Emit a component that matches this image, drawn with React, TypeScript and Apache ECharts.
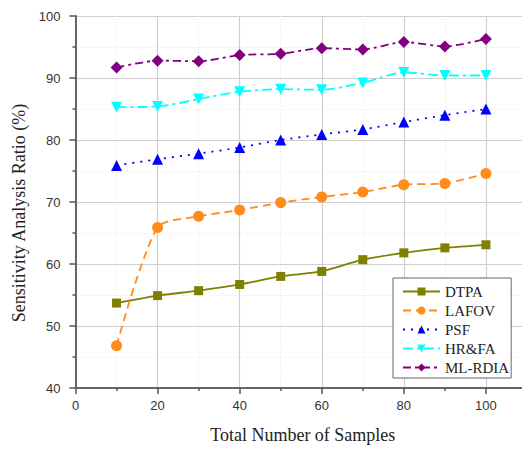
import React, { useEffect, useRef } from "react";
import * as echarts from "echarts";

const xValues = [10, 20, 30, 40, 50, 60, 70, 80, 90, 100];
const dtpa = [53.7, 54.9, 55.7, 56.7, 58.0, 58.8, 60.7, 61.8, 62.6, 63.1];
const lafov = [46.8, 65.9, 67.7, 68.7, 69.9, 70.8, 71.6, 72.8, 73.0, 74.6];
const psf = [75.9, 76.9, 77.8, 78.8, 80.0, 80.9, 81.7, 82.9, 84.0, 85.0];
const hrfa = [85.3, 85.4, 86.6, 87.8, 88.2, 88.1, 89.2, 90.9, 90.4, 90.4];
const mlrdia = [91.7, 92.8, 92.7, 93.7, 93.9, 94.8, 94.6, 95.8, 95.1, 96.3];

const pairs = (ys: number[]) => xValues.map((x, i) => [x, ys[i]]);

export default function App() {
  const ref = useRef<HTMLDivElement>(null);
  useEffect(() => {
    if (!ref.current) return;
    const chart = echarts.init(ref.current, undefined, { renderer: "svg" });
    const serif = "Liberation Serif";
    const sans = "Liberation Sans";
    const mk = (
      name: string,
      data: number[],
      color: string,
      symbol: string,
      size: number,
      type: any,
      extra: any = {}
    ) => ({
      name,
      type: "line",
      data: pairs(data),
      symbol,
      symbolSize: size,
      smooth: 0.25,
      itemStyle: { color },
      lineStyle: { color, width: 1.8, type },
      ...extra,
    });
    chart.setOption({
      animation: false,
      backgroundColor: "#fff",
      grid: { left: 75.5, right: 0, top: 16, bottom: 62, containLabel: false },
      xAxis: {
        type: "value",
        min: 0,
        max: 120,
        interval: 20,
        name: "Total Number of Samples",
        nameLocation: "middle",
        nameGap: 38,
        nameTextStyle: { fontFamily: serif, fontSize: 18, color: "#222", padding: [0, 38, 0, 0] },
        axisLine: { show: true, lineStyle: { color: "#666", width: 2 } },
        axisTick: { show: true, inside: false, length: 6, lineStyle: { color: "#555", width: 1.5 } },
        minorTick: { show: true, splitNumber: 2, length: 3, lineStyle: { color: "#555", width: 1.5 } },
        axisLabel: { fontFamily: sans, fontSize: 13, color: "#333", margin: 11, showMaxLabel: false },
        splitLine: { show: true, lineStyle: { color: "#cfcfcf", width: 1.2 } },
        minorSplitLine: { show: true, lineStyle: { color: "#e6e6e6", width: 1, type: [1, 2] } },
      },
      yAxis: {
        type: "value",
        min: 40,
        max: 100,
        interval: 10,
        name: "Sensitivity Analysis Ratio (%)",
        nameLocation: "middle",
        nameGap: 47,
        nameTextStyle: { fontFamily: serif, fontSize: 18, color: "#222", padding: [0, 22, 0, 0] },
        axisLine: { show: true, lineStyle: { color: "#666", width: 2 } },
        axisTick: { show: true, inside: false, length: 6, lineStyle: { color: "#555", width: 1.5 } },
        minorTick: { show: true, splitNumber: 2, length: 3, lineStyle: { color: "#555", width: 1.5 } },
        axisLabel: { fontFamily: sans, fontSize: 13, color: "#333", margin: 15 },
        splitLine: { show: true, lineStyle: { color: "#cfcfcf", width: 1.2 } },
        minorSplitLine: { show: true, lineStyle: { color: "#e6e6e6", width: 1, type: [1, 2] } },
      },
      legend: {
        orient: "vertical",
        left: 393,
        top: 278,
        itemWidth: 37,
        itemHeight: 10,
        itemGap: 4,
        padding: [6, 2, 3, 9],
        borderColor: "#666",
        borderWidth: 1,
        backgroundColor: "#fff",
        textStyle: { fontFamily: serif, fontSize: 15, color: "#222" },
        data: ["DTPA", "LAFOV", "PSF", "HR&FA", "ML-RDIA"],
      },
      series: [
        mk("DTPA", dtpa, "#808000", "rect", 9, "solid"),
        mk("LAFOV", lafov, "#ff8c1a", "circle", 11, [8, 5]),
        mk("PSF", psf, "#0000ff", "triangle", 11, [2, 6]),
        mk("HR&FA", hrfa, "#00ffff", "triangle", 11, [10, 4, 3, 4], { symbolRotate: 180 }),
        mk("ML-RDIA", mlrdia, "#800080", "diamond", 12, [8, 4, 3, 4]),
      ],
    });
    return () => chart.dispose();
  }, []);
  return (
    <div style={{ position: "absolute", left: 0, top: 0, width: 522, height: 450, overflow: "hidden" }}>
      <div ref={ref} style={{ width: 568, height: 450 }} />
    </div>
  );
}
